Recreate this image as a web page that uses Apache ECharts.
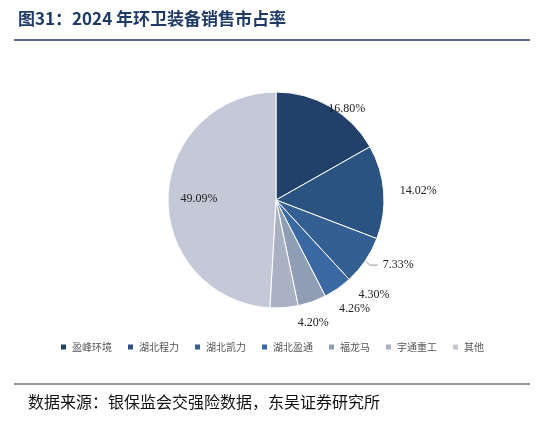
<!DOCTYPE html><html><head><meta charset="utf-8"><script src="https://cdn.jsdelivr.net/npm/echarts@6/dist/echarts.min.js"></script>
<style>body{margin:0;background:#fff}#c{width:543px;height:427px}</style></head><body><div id="c"></div><script>
const categories=['盈峰环境','湖北程力','湖北凯力','湖北盈通','福龙马','宇通重工','其他'];
const values=[16.80,14.02,7.33,4.30,4.26,4.20,49.09];
const colors=['#22416a','#2a5382','#335f93','#3a68a3','#8f9db5','#a9b1c3','#c5c8d6'];
const chart=echarts.init(document.getElementById('c'));
chart.setOption({
 graphic:[
  {type:'text',left:18,top:10,style:{text:'图31：2024 年环卫装备销售市占率',font:'bold 17px "Noto Sans CJK SC", serif',fill:'#1f3a66'}},
  {type:'line',shape:{x1:14,y1:40,x2:530,y2:40},style:{stroke:'#1f3a66',lineWidth:1.5}},
  {type:'line',shape:{x1:14,y1:384,x2:530,y2:384},style:{stroke:'#333',lineWidth:1}},
  {type:'text',left:28,top:394,style:{text:'数据来源：银保监会交强险数据，东吴证券研究所',font:'16px "Noto Sans CJK SC"',fill:'#111'}}
 ],
 legend:{bottom:70,left:'center',itemWidth:7,itemHeight:7,itemGap:14,icon:'rect',textStyle:{fontSize:10,color:'#555',fontFamily:'Noto Sans CJK SC'},data:categories},
 series:[{type:'pie',center:[276,200],radius:[0,108],startAngle:90,clockwise:true,
  data:categories.map((n,i)=>{
    const d={name:n,value:values[i],itemStyle:{color:colors[i]}};
    if(i!==2) d.labelLine={show:false};
    if(i===6) d.label={position:'inside',offset:[-20,0]};
    if(i===0) d.label={position:'inside',offset:[42,-42]};
    return d;}),
  itemStyle:{borderColor:'#fff',borderWidth:1},
  label:{formatter:p=>p.value.toFixed(2)+'%',fontFamily:'Times New Roman, Liberation Serif',fontSize:12,color:'#222'},
  labelLine:{length:8,length2:8,lineStyle:{color:'#999'}}
 }]
});
</script></body></html>
